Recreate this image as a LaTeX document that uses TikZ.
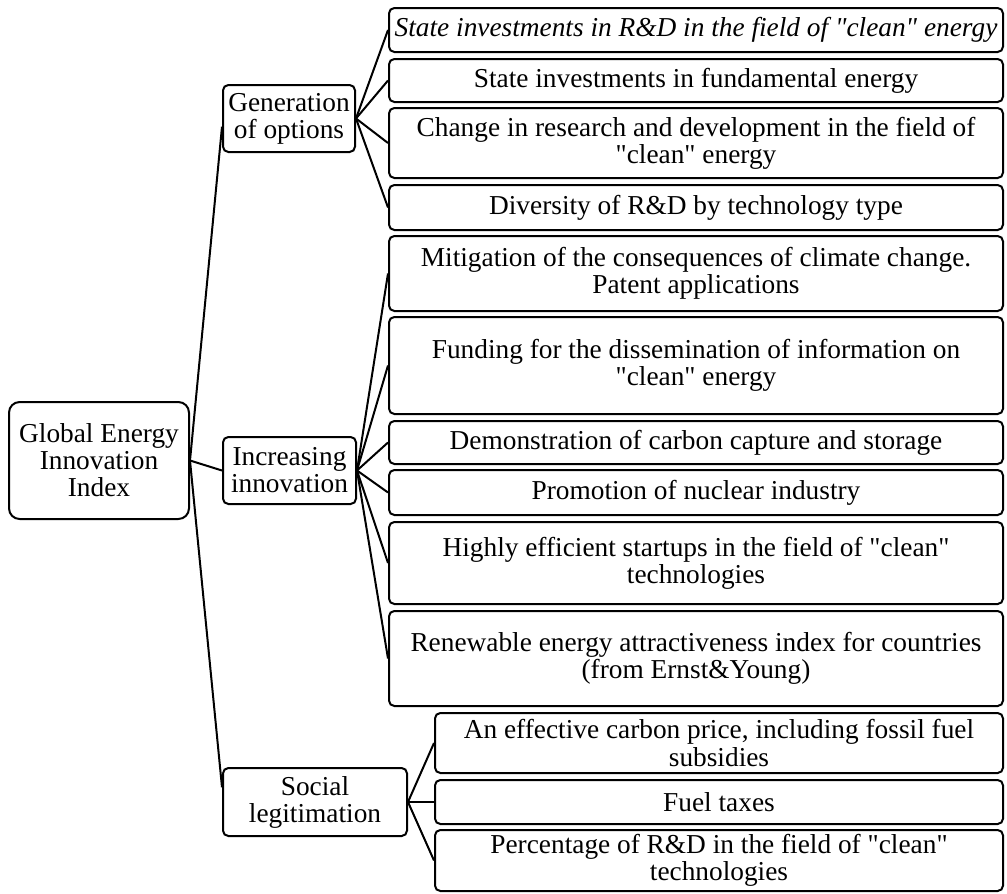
\documentclass[tikz,border=0pt]{standalone}
\usepackage{fontspec}
\setmainfont{Liberation Serif}[Ligatures=TeXOff]
\begin{document}
\begin{tikzpicture}[x=0.75pt,y=-0.75pt,
  box/.style={draw, line width=1.5pt, rounded corners=4pt, align=center, inner sep=0pt,
    font=\fontsize{20.5}{20.3}\selectfont},
  rootbox/.style={box, rounded corners=8pt, minimum width=135pt, minimum height=87.75pt},
  midbox/.style={box, minimum height=50.25pt},
  leafa/.style={box, minimum width=460.5pt},
  leafb/.style={box, minimum width=426pt},
  link/.style={line width=1.5pt}]
\useasboundingbox (0,0) rectangle (1007,893);
% main nodes
\node[rootbox] (root) at (99,460.5) {Global Energy\\Innovation\\Index};
\node[midbox, minimum width=99pt] (gen) at (289,118.5) {Generation\\of options};
\node[midbox, minimum width=99.75pt] (inc) at (289.5,470.5) {Increasing\\innovation};
\node[midbox, minimum width=138pt, minimum height=51pt] (soc) at (315,802) {Social\\legitimation};
% leaves of generation
\node[leafa, minimum height=33pt] (l1) at (696,30) {\fontsize{20.5}{20.3}\selectfont\itshape State investments in R\&D in the field of "clean" energy};
\node[leafa, minimum height=32.25pt] (l2) at (696,80.5) {State investments in fundamental energy};
\node[leafa, minimum height=52.5pt] (l3) at (696,143) {Change in research and development in the field of\\"clean" energy};
\node[leafa, minimum height=33.75pt] (l4) at (696,207.5) {Diversity of R\&D by technology type};
% leaves of innovation
\node[leafa, minimum height=56.25pt] (l5) at (696,273.5) {Mitigation of the consequences of climate change.\\Patent applications};
\node[leafa, minimum height=72.75pt] (l6) at (696,365.5) {Funding for the dissemination of information on\\"clean" energy};
\node[leafa, minimum height=32.25pt] (l7) at (696,442.5) {Demonstration of carbon capture and storage};
\node[leafa, minimum height=33.75pt] (l8) at (696,492.5) {Promotion of nuclear industry};
\node[leafa, minimum height=61.5pt] (l9) at (696,563) {Highly efficient startups in the field of "clean"\\technologies};
\node[leafa, minimum height=71.25pt] (l10) at (696,658.5) {Renewable energy attractiveness index for countries\\(from Ernst\&Young)};
% leaves of legitimation
\node[leafb, minimum height=45pt] (l11) at (719,743) {An effective carbon price, including fossil fuel\\subsidies};
\node[leafb, minimum height=33pt] (l12) at (719,802) {Fuel taxes};
\node[leafb, minimum height=45.75pt] (l13) at (719,860.5) {Percentage of R\&D in the field of "clean"\\technologies};
% connectors
\draw[link] (root.east) -- (gen.187);
\draw[link] (root.east) -- (inc.west);
\draw[link] (root.east) -- (soc.171);
\foreach \n in {l1,l2,l3,l4} \draw[link] (gen.east) -- (\n.west);
\foreach \n in {l5,l6,l7,l8,l9,l10} \draw[link] (inc.east) -- (\n.west);
\foreach \n in {l11,l12,l13} \draw[link] (soc.east) -- (\n.west);
\end{tikzpicture}
\end{document}
